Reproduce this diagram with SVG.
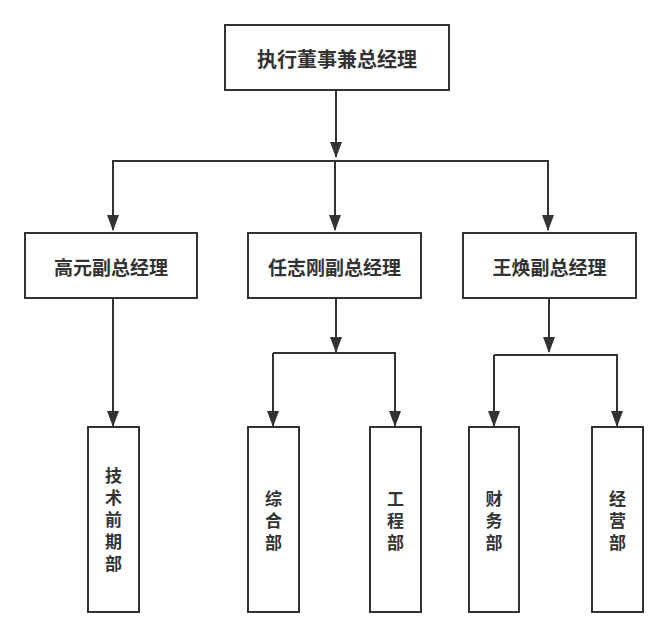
<svg xmlns="http://www.w3.org/2000/svg" width="667" height="637" viewBox="0 0 667 637">
<defs>
<style>
.box{fill:#fff;stroke:#333;stroke-width:2}
.t{font-family:"Noto Sans CJK SC","Noto Sans CJK JP",sans-serif;font-weight:bold;font-size:19px;fill:#333;text-anchor:middle;dominant-baseline:central}
.v{font-size:17px;writing-mode:vertical-rl;text-anchor:start;letter-spacing:5px}
.c{fill:none;stroke:#333;stroke-width:2}
</style>
<marker id="ah" markerUnits="userSpaceOnUse" markerWidth="16" markerHeight="12" viewBox="0 0 16 12" refX="15" refY="6" orient="auto">
<path d="M0,0 L16,6 L0,12 Z" fill="#333"/>
</marker>
</defs>
<rect width="667" height="637" fill="#fff"/>
<g id="connectors">
<path class="c" d="M336,90 V157" marker-end="url(#ah)"/>
<path class="c" d="M113,230 V161 H548 V230" marker-end="url(#ah)"/>
<path class="c" d="M113,161 V230" marker-end="url(#ah)"/>
<path class="c" d="M335,161 V230" marker-end="url(#ah)"/>
<path class="c" d="M113,298 V426" marker-end="url(#ah)"/>
<path class="c" d="M336,298 V352" marker-end="url(#ah)"/>
<path class="c" d="M273,353 H395 V426" marker-end="url(#ah)"/>
<path class="c" d="M273,353 V426" marker-end="url(#ah)"/>
<path class="c" d="M549,298 V352" marker-end="url(#ah)"/>
<path class="c" d="M494,355 H617 V426" marker-end="url(#ah)"/>
<path class="c" d="M494,355 V426" marker-end="url(#ah)"/>
</g>
<g id="n0"><rect class="box" x="225" y="25" width="224" height="65"/><text class="t" x="337" y="58" style="font-size:20px">执行董事兼总经理</text></g>
<g id="n1"><rect class="box" x="25" y="233" width="172" height="65"/><text class="t" x="111" y="266">高元副总经理</text></g>
<g id="n2"><rect class="box" x="248" y="233" width="173" height="65"/><text class="t" x="334.5" y="266">任志刚副总经理</text></g>
<g id="n3"><rect class="box" x="463" y="233" width="173" height="65"/><text class="t" x="549.5" y="266">王焕副总经理</text></g>
<g id="n4"><rect class="box" x="88" y="427" width="51" height="185"/><text class="t v" x="113.5" y="467.5">技术前期部</text></g>
<g id="n5"><rect class="box" x="248" y="427" width="51" height="185"/><text class="t v" x="273.5" y="490.5">综合部</text></g>
<g id="n6"><rect class="box" x="370" y="427" width="51" height="185"/><text class="t v" x="395.5" y="490.5">工程部</text></g>
<g id="n7"><rect class="box" x="469" y="427" width="50" height="185"/><text class="t v" x="494" y="490.5">财务部</text></g>
<g id="n8"><rect class="box" x="592" y="427" width="51" height="185"/><text class="t v" x="617.5" y="490.5">经营部</text></g>
</svg>
